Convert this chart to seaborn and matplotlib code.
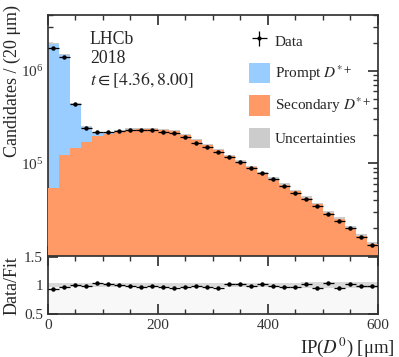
import numpy as np
import pandas as pd
import matplotlib
matplotlib.use("Agg")
import matplotlib.pyplot as plt
import seaborn as sns
from matplotlib.patches import Patch
from matplotlib.ticker import MultipleLocator, LogLocator, NullFormatter

# ----------------------------------------
# DATA (20 um bins)
# ----------------------------------------
bin_edges = list(range(0, 620, 20))
bin_centers = [e + 10 for e in bin_edges[:-1]]

data_counts = [1.77e6, 1.42e6, 4.37e5, 2.39e5, 2.16e5, 2.16e5, 2.24e5, 2.29e5,
               2.31e5, 2.29e5, 2.20e5, 2.11e5, 1.94e5, 1.67e5, 1.51e5, 1.34e5,
               1.18e5, 1.03e5, 8.99e4, 7.81e4, 6.73e4, 5.70e4, 4.83e4, 4.09e4,
               3.47e4, 2.87e4, 2.39e4, 1.98e4, 1.62e4, 1.32e4]

secondary = [5.4e4, 1.23e5, 1.48e5, 1.71e5, 1.97e5, 2.05e5, 2.20e5, 2.29e5,
             2.33e5, 2.33e5, 2.29e5, 2.21e5, 2.03e5, 1.77e5, 1.57e5, 1.39e5,
             1.20e5, 1.04e5, 9.1e4, 7.8e4, 6.8e4, 5.9e4, 5.0e4, 4.2e4,
             3.6e4, 2.9e4, 2.5e4, 2.0e4, 1.65e4, 1.35e4]

prompt = [1.88e6, 1.36e6, 2.87e5, 7.3e4, 1.5e4, 7.0e3, 4.0e3, 2.5e3,
          1.5e3, 1.0e3, 700, 500, 400, 300, 200, 150,
          100, 80, 60, 50, 40, 30, 25, 20,
          15, 12, 10, 8, 6, 5]

ratio = [0.935, 0.96, 1.005, 0.98, 1.035, 1.02, 1.0, 0.99, 0.97, 0.975,
         0.96, 0.94, 0.965, 0.975, 0.965, 0.95, 1.01, 1.01, 0.99, 1.02,
         0.99, 0.97, 0.965, 1.01, 0.95, 1.04, 0.95, 1.025, 0.99, 0.975]

# relative fit uncertainty per bin
fit_unc = [0.03, 0.03, 0.03, 0.03, 0.03, 0.03, 0.03, 0.03, 0.03, 0.03,
           0.03, 0.03, 0.03, 0.03, 0.03, 0.03, 0.035, 0.035, 0.035, 0.035,
           0.04, 0.04, 0.04, 0.045, 0.045, 0.05, 0.05, 0.055, 0.055, 0.06]

col_prompt = "#99ccff"
col_second = "#ff9966"
col_unc = "#cccccc"

df = pd.DataFrame({"ip": bin_centers, "data": data_counts,
                   "secondary": secondary, "prompt": prompt,
                   "ratio": ratio, "unc": fit_unc})
df["total"] = df["secondary"] + df["prompt"]

# ----------------------------------------
# STYLE
# ----------------------------------------
sns.set_theme(style="ticks")
plt.rcParams["font.family"] = ["Liberation Serif", "DejaVu Serif"]
plt.rcParams["mathtext.fontset"] = "stix"
plt.rcParams["font.size"] = 11
for a in ["x", "y"]:
    plt.rcParams[f"{a}tick.direction"] = "in"
    plt.rcParams[f"{a}tick.major.size"] = 7
    plt.rcParams[f"{a}tick.minor.size"] = 3.5
    plt.rcParams[f"{a}tick.labelsize"] = 11
    plt.rcParams[f"{a}tick.color"] = "#333333"
plt.rcParams["axes.edgecolor"] = "#333333"
LABEL_FS = 13

fig = plt.figure(figsize=(3.99, 3.57), dpi=100)
ax = fig.add_axes([0.1203, 0.283, 0.8267, 0.675])
rax = fig.add_axes([0.1203, 0.120, 0.8267, 0.163], sharex=ax)

# ----------------------------------------
# MAIN PANEL
# ----------------------------------------
edges = np.array(bin_edges, dtype=float)
tot_step = np.append(df["total"].values, df["total"].values[-1])
unc_step = np.append(df["unc"].values, df["unc"].values[-1])
ax.fill_between(edges, tot_step * (1 - unc_step), tot_step * (1 + unc_step),
                step="post", color=col_unc, lw=0, zorder=1)

sns.histplot(data=df, x="ip", weights="total", bins=bin_edges, color=col_prompt,
             alpha=1, linewidth=0, ax=ax, zorder=2)
sns.histplot(data=df, x="ip", weights="secondary", bins=bin_edges, color=col_second,
             alpha=1, linewidth=0, ax=ax, zorder=3)

ax.errorbar(df["ip"], df["data"], xerr=10, yerr=np.sqrt(df["data"]) * 3,
            fmt="o", ms=2.2, color="black", elinewidth=0.9, capsize=0, zorder=5)

ax.set_yscale("log")
ax.set_ylim(1e4, 4e6)
ax.set_xlim(0, 600)
ax.set_yticks([1e5, 1e6])
ax.yaxis.set_minor_locator(LogLocator(base=10, subs=np.arange(2, 10)))
ax.yaxis.set_minor_formatter(NullFormatter())
ax.xaxis.set_major_locator(MultipleLocator(200))
ax.xaxis.set_minor_locator(MultipleLocator(50))
ax.tick_params(which="both", top=True, right=True, labelbottom=False)
ax.set_xlabel("")
ax.set_ylabel("Candidates / (20 μm)", loc="top", fontsize=LABEL_FS)
ax.yaxis.set_label_coords(-0.083, 1.043)

ax.text(0.127, 0.935, "LHCb\n2018\n$t \\in [4.36, 8.00]$", transform=ax.transAxes,
        ha="left", va="top", fontsize=12.8, linespacing=1.2)

handles = [
    ax.errorbar([], [], xerr=1, yerr=1, fmt="o", ms=2, color="black", elinewidth=0.9),
    Patch(facecolor=col_prompt, edgecolor="none"),
    Patch(facecolor=col_second, edgecolor="none"),
    Patch(facecolor=col_unc, edgecolor="none"),
]
labels = ["Data", "Prompt $D^{*+}$", "Secondary $D^{*+}$", "Uncertainties"]
ax.legend(handles, labels, loc="upper left", bbox_to_anchor=(0.59, 0.96),
          frameon=False, fontsize=11, handlelength=1.4, handleheight=1.65,
          labelspacing=0.8, handletextpad=0.3, borderaxespad=0)

# ----------------------------------------
# RATIO PANEL
# ----------------------------------------
lo_step = 1 - unc_step
hi_step = 1 + unc_step
rax.fill_between(edges, 0.49, lo_step, step="post", color="#f8f8f8", lw=0, zorder=0)
rax.fill_between(edges, lo_step, hi_step, step="post", color="#d9d9d9", lw=0, zorder=1)
rax.errorbar(df["ip"], df["ratio"], xerr=10, yerr=0.012, fmt="o", ms=2.2,
             color="black", elinewidth=0.9, capsize=0, zorder=5)
rax.set_ylim(0.49, 1.51)
rax.set_yticks([0.5, 1, 1.5])
rax.set_yticklabels(["0.5", "1", "1.5"])
rax.tick_params(which="both", top=True, right=True)
rax.set_xlim(0, 600)
rax.set_ylabel("Data/Fit", fontsize=LABEL_FS)
rax.yaxis.set_label_coords(-0.083, 0.5)
rax.set_xlabel("IP($D^0$) [μm]", loc="right", fontsize=13.5)
rax.xaxis.set_label_coords(1.05, -0.36)

fig.savefig("out.png", dpi=100)
